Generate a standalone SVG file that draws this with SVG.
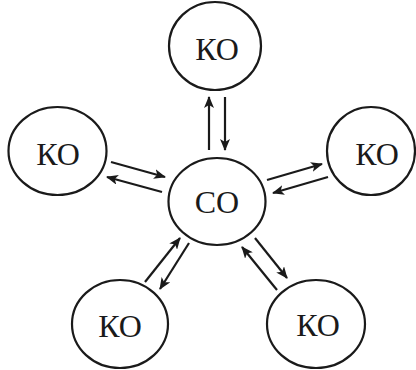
<svg xmlns="http://www.w3.org/2000/svg" width="416" height="370" viewBox="0 0 416 370">
<style>
.n{fill:#fff;stroke:#1a1a1a;stroke-width:2.2}
.t{font-family:"Liberation Serif","Times New Roman",serif;font-size:32px;fill:#1a1a1a;text-anchor:middle}
.c{stroke:#1a1a1a;stroke-width:2.2;fill:none;marker-end:url(#a)}
</style>
<defs>
<marker id="a" viewBox="0 0 12 10" refX="11" refY="5" markerWidth="12" markerHeight="10" markerUnits="userSpaceOnUse" orient="auto">
<path d="M0,0 L12,5 L0,10 L3,5 Z" fill="#1a1a1a"/>
</marker>
</defs>
<rect width="416" height="370" fill="#fff"/>
<g id="connectors">
<line class="c" x1="209" y1="150" x2="209" y2="97"/>
<line class="c" x1="225" y1="97" x2="225" y2="150"/>
<line class="c" x1="111" y1="162" x2="165" y2="177"/>
<line class="c" x1="162" y1="192" x2="107" y2="177"/>
<line class="c" x1="267" y1="180" x2="322" y2="164"/>
<line class="c" x1="328" y1="177" x2="273" y2="193"/>
<line class="c" x1="145" y1="282" x2="180" y2="238"/>
<line class="c" x1="189" y1="243" x2="160" y2="289"/>
<line class="c" x1="255" y1="238" x2="287" y2="278"/>
<line class="c" x1="277" y1="290" x2="242" y2="247"/>
</g>
<g id="center"><ellipse class="n" cx="217" cy="201.5" rx="48.5" ry="43.5"/><text class="t" x="217" y="213">СО</text></g>
<g id="top"><ellipse class="n" cx="215" cy="46" rx="46" ry="44"/><text class="t" x="217" y="60">КО</text></g>
<g id="left"><ellipse class="n" cx="57.5" cy="151" rx="49" ry="44"/><text class="t" x="58" y="165">КО</text></g>
<g id="right"><ellipse class="n" cx="371" cy="151" rx="44" ry="44"/><text class="t" x="377" y="165">КО</text></g>
<g id="bottomleft"><ellipse class="n" cx="120" cy="324" rx="48" ry="44"/><text class="t" x="120" y="337">КО</text></g>
<g id="bottomright"><ellipse class="n" cx="316" cy="324" rx="49" ry="44"/><text class="t" x="318" y="336">КО</text></g>
</svg>
